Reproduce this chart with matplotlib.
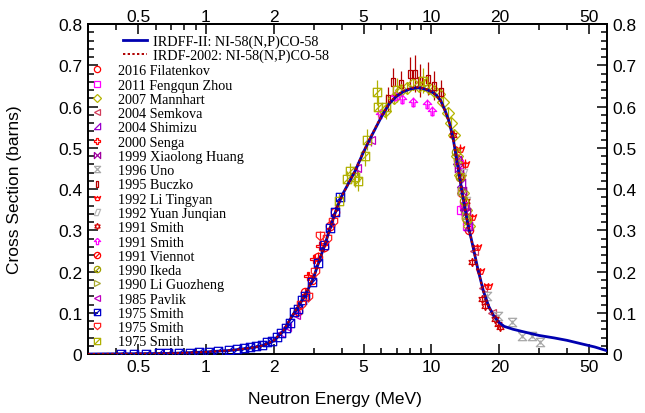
import numpy as np
import matplotlib
matplotlib.use("Agg")
import matplotlib.pyplot as plt
from matplotlib.path import Path
from matplotlib.lines import Line2D
from matplotlib.ticker import FixedLocator, FixedFormatter, LogLocator, MultipleLocator, NullFormatter

plt.rcParams['font.family'] = ['Liberation Sans', 'DejaVu Sans']

# evaluated curves (MeV, barns)
irdff_e = [0.3, 0.5, 0.7, 1.0, 1.3, 1.6, 1.8, 2.0, 2.2, 2.4, 2.6, 2.8, 3.0, 3.2, 3.4, 3.6,
           3.8, 4.0, 4.3, 4.6, 5.0, 5.5, 6.0, 6.5, 7.0, 7.5, 8.0, 8.5, 9.0, 9.5, 10.0,
           10.5, 11.0, 11.5, 12.0, 12.5, 13.0, 13.5, 14.0, 14.5, 15.0, 15.5, 16.0, 17.0,
           18.0, 19.0, 20.0, 21.0, 23.0, 26.0, 30.0, 35.0, 40.0, 46.0, 53.0, 60.0]
irdff_xs = [0.0, 0.0008, 0.0015, 0.005, 0.009, 0.015, 0.021, 0.032, 0.055, 0.09, 0.12,
            0.15, 0.185, 0.23, 0.272, 0.315, 0.353, 0.383, 0.415, 0.445, 0.49, 0.535,
            0.575, 0.607, 0.625, 0.636, 0.642, 0.645, 0.645, 0.641, 0.636, 0.628, 0.614,
            0.59, 0.562, 0.52, 0.465, 0.41, 0.36, 0.315, 0.28, 0.245, 0.21, 0.152, 0.114,
            0.09, 0.076, 0.067, 0.06, 0.053, 0.045, 0.039, 0.033, 0.025, 0.017, 0.008]
irdf_e = [0.3, 0.5, 0.7, 1.0, 1.3, 1.6, 1.8, 2.0, 2.2, 2.4, 2.6, 2.8, 3.0, 3.2, 3.4, 3.6,
          3.8, 4.0, 4.3, 4.6, 5.0, 5.5, 6.0, 6.5, 7.0, 7.5, 8.0, 8.5, 9.0, 9.5, 10.0,
          10.5, 11.0, 11.5, 12.0, 12.5, 13.0, 13.5, 14.0, 14.5, 15.0, 15.5, 16.0, 17.0,
          18.0, 19.0, 20.0]
irdf_xs = [0.0, 0.0008, 0.0015, 0.005, 0.009, 0.015, 0.021, 0.033, 0.056, 0.091, 0.121,
           0.151, 0.186, 0.231, 0.272, 0.314, 0.352, 0.382, 0.415, 0.446, 0.491, 0.537,
           0.577, 0.609, 0.627, 0.638, 0.644, 0.647, 0.646, 0.642, 0.636, 0.627, 0.612,
           0.588, 0.56, 0.518, 0.463, 0.409, 0.359, 0.314, 0.279, 0.244, 0.209, 0.151,
           0.113, 0.089, 0.075]

# measurements
filatenkov_e = [13.1, 13.4, 13.7, 14.0, 14.3, 14.6]
filatenkov_xs = [0.47, 0.43, 0.39, 0.36, 0.33, 0.30]
filatenkov_err = [0.015, 0.015, 0.014, 0.013, 0.012, 0.012]

zhou_e = [13.2, 13.5, 14.0, 14.4]
zhou_xs = [0.46, 0.35, 0.36, 0.31]
zhou_err = [0.015, 0.014, 0.013, 0.012]

mannhart_e = [6.2, 6.8, 7.3, 7.8, 8.3, 8.8, 9.3, 9.8, 10.3, 10.8, 11.3, 11.8, 12.2,
              12.6, 13.0, 13.4, 13.8, 14.2, 14.6]
mannhart_xs = [0.59, 0.62, 0.64, 0.645, 0.655, 0.65, 0.652, 0.645, 0.638, 0.63, 0.61,
               0.585, 0.56, 0.53, 0.48, 0.435, 0.39, 0.35, 0.31]
mannhart_err = [0.015] * 19

semkova_e = [14.1, 15.5, 17.0, 18.6]
semkova_xs = [0.36, 0.25, 0.16, 0.10]
semkova_err = [0.012, 0.01, 0.008, 0.006]

shimizu_e = [13.0, 13.5, 14.0, 14.5]
shimizu_xs = [0.47, 0.415, 0.36, 0.31]
shimizu_err = [0.014, 0.013, 0.012, 0.011]

senga_e = [2.85, 3.0, 3.2]
senga_xs = [0.19, 0.23, 0.262]
senga_err = [0.01, 0.012, 0.012]

huang_e = [13.2, 13.7, 14.2]
huang_xs = [0.45, 0.395, 0.345]
huang_err = [0.015, 0.014, 0.012]

uno_e = [17.64, 19.74, 22.78, 25.22, 27.93, 30.31]
uno_xs = [0.141, 0.092, 0.078, 0.044, 0.044, 0.029]
uno_err = [0.006, 0.005, 0.005, 0.004, 0.004, 0.004]

buczko_e = [6.42, 6.76, 7.3, 8.04, 8.46, 8.9, 9.66, 10.3, 11.03]
buczko_xs = [0.618, 0.659, 0.655, 0.679, 0.679, 0.662, 0.667, 0.65, 0.635]
buczko_err = [0.03, 0.035, 0.03, 0.04, 0.045, 0.04, 0.04, 0.035, 0.03]

tingyan_e = [13.39, 14.09, 15.09, 15.88, 16.43, 17.83]
tingyan_xs = [0.497, 0.461, 0.331, 0.259, 0.202, 0.166]
tingyan_err = [0.012, 0.012, 0.009, 0.008, 0.007, 0.006]

junqian_e = [13.8, 14.3]
junqian_xs = [0.44, 0.37]
junqian_err = [0.02, 0.02]

smith91a_e = [12.5, 13.5, 14.2, 15.14, 16.77, 17.29, 19.15, 19.74, 20.13]
smith91a_xs = [0.53, 0.43, 0.37, 0.223, 0.133, 0.116, 0.085, 0.073, 0.065]
smith91a_err = [0.012, 0.012, 0.01, 0.01, 0.008, 0.008, 0.006, 0.006, 0.006]

smith91b_e = [5.92, 6.89, 7.41, 8.28, 9.55, 10.07]
smith91b_xs = [0.582, 0.625, 0.618, 0.611, 0.606, 0.589]
smith91b_err = [0.012, 0.012, 0.012, 0.012, 0.012, 0.012]

viennot_e = [2.55, 2.75, 2.95, 3.15, 3.35, 3.55, 3.75]
viennot_xs = [0.105, 0.15, 0.18, 0.235, 0.26, 0.31, 0.345]
viennot_err = [0.008, 0.009, 0.01, 0.012, 0.012, 0.014, 0.015]

ikeda_e = [12.9, 13.4, 13.9, 14.4]
ikeda_xs = [0.49, 0.43, 0.37, 0.325]
ikeda_err = [0.012, 0.012, 0.011, 0.01]

guozheng_e = [13.1, 13.7, 14.3]
guozheng_xs = [0.465, 0.395, 0.335]
guozheng_err = [0.012, 0.011, 0.01]

pavlik_e = [2.15, 2.3, 2.5, 4.7, 5.4]
pavlik_xs = [0.05, 0.065, 0.095, 0.45, 0.52]
pavlik_err = [0.004, 0.005, 0.006, 0.015, 0.015]

smith75a_e = [0.42, 0.48, 0.54, 0.62, 0.68, 0.76, 0.85, 0.93, 1.03, 1.13, 1.27, 1.37,
              1.47, 1.57, 1.67, 1.77, 1.87, 1.97, 2.06, 2.16, 2.26, 2.36, 2.46, 2.56,
              2.66, 2.76, 2.95, 3.15, 3.35, 3.55, 3.75, 3.95]
smith75a_xs = [0.001, 0.001, 0.001, 0.002, 0.002, 0.003, 0.003, 0.004, 0.006, 0.007,
               0.009, 0.012, 0.014, 0.017, 0.02, 0.023, 0.028, 0.032, 0.042, 0.052, 0.063,
               0.075, 0.101, 0.11, 0.13, 0.14, 0.175, 0.22, 0.265, 0.305, 0.345, 0.38]
smith75a_err = [0.002] * 32

smith75b_e = [2.65, 2.85, 3.05, 3.21, 3.45, 3.65]
smith75b_xs = [0.12, 0.137, 0.2, 0.287, 0.28, 0.32]
smith75b_err = [0.008, 0.01, 0.01, 0.012, 0.012, 0.014]

smith75c_e = [3.9, 4.21, 4.35, 4.58, 4.72, 5.07, 5.16, 5.72, 5.8, 6.3, 7.0, 9.18]
smith75c_xs = [0.37, 0.424, 0.444, 0.43, 0.42, 0.48, 0.52, 0.634, 0.6, 0.6, 0.64, 0.663]
smith75c_err = [0.02, 0.02, 0.02, 0.025, 0.025, 0.025, 0.025, 0.03, 0.025, 0.03, 0.03, 0.03]

x_ticks = [0.5, 1, 2, 5, 10, 20, 50]
x_tick_labels = ['0.5', '1', '2', '5', '10', '20', '50']


def slashed(base):
    """closed outline with a diagonal stroke through it"""
    verts = list(base) + [base[0], (-0.8, -0.8), (0.8, 0.8)]
    codes = ([Path.MOVETO] + [Path.LINETO] * (len(base) - 1) + [Path.CLOSEPOLY]
             + [Path.MOVETO, Path.LINETO])
    return Path(verts, codes)


circ = Path.unit_circle()
slash_circle = Path.make_compound_path(circ, Path([(-0.7, -0.7), (0.7, 0.7)]))
slash_square = slashed([(-1, -1), (1, -1), (1, 1), (-1, 1)])
hourglass = [(-1, 1), (1, 1), (-1, -1), (1, -1), (-1, 1)]
bowtie = [(-1, 1), (-1, -1), (1, 1), (1, -1), (-1, 1)]
shield = [(-1, 1), (1, 1), (1, -0.1), (0, -1), (-1, -0.1), (-1, 1)]
tall_rect = [(-0.45, 1), (0.45, 1), (0.45, -1), (-0.45, -1), (-0.45, 1)]
crown = [(-1.2, 0.8), (-0.4, 0.2), (0, 0.8), (0.4, 0.2), (1.2, 0.8), (0.6, -0.8),
         (-0.6, -0.8), (-1.2, 0.8)]
slant = [(-1, -1), (0.2, -1), (1, 1), (-0.2, 1), (-1, -1)]
arrow = [(0, 1), (1, 0), (0.35, 0), (0.35, -1), (-0.35, -1), (-0.35, 0), (-1, 0), (0, 1)]
wedge = [(-1, -1), (1, -1), (1, 1), (-1, -1)]

series = [
    ('2016 Filatenkov', filatenkov_e, filatenkov_xs, filatenkov_err, 'o', '#ff0000'),
    ('2011 Fengqun Zhou', zhou_e, zhou_xs, zhou_err, 's', '#ff00ff'),
    ('2007 Mannhart', mannhart_e, mannhart_xs, mannhart_err, 'D', '#b4b400'),
    ('2004 Semkova', semkova_e, semkova_xs, semkova_err, '<', '#d23c5a'),
    ('2004 Shimizu', shimizu_e, shimizu_xs, shimizu_err, wedge, '#9a00cc'),
    ('2000 Senga', senga_e, senga_xs, senga_err, 'P', '#ff0000'),
    ('1999 Xiaolong Huang', huang_e, huang_xs, huang_err, bowtie, '#a000a0'),
    ('1996 Uno', uno_e, uno_xs, uno_err, hourglass, '#a8a8a8'),
    ('1995 Buczko', buczko_e, buczko_xs, buczko_err, tall_rect, '#b40000'),
    ('1992 Li Tingyan', tingyan_e, tingyan_xs, tingyan_err, crown, '#ff0000'),
    ('1992 Yuan Junqian', junqian_e, junqian_xs, junqian_err, slant, '#b8b8b8'),
    ('1991 Smith', smith91a_e, smith91a_xs, smith91a_err, (6, 1, 0), '#d00000'),
    ('1991 Smith', smith91b_e, smith91b_xs, smith91b_err, arrow, '#ff00ff'),
    ('1991 Viennot', viennot_e, viennot_xs, viennot_err, slash_circle, '#ff0000'),
    ('1990 Ikeda', ikeda_e, ikeda_xs, ikeda_err, slash_circle, '#a0a000'),
    ('1990 Li Guozheng', guozheng_e, guozheng_xs, guozheng_err, '>', '#a8a830'),
    ('1985 Pavlik', pavlik_e, pavlik_xs, pavlik_err, '<', '#c000c0'),
    ('1975 Smith', smith75a_e, smith75a_xs, smith75a_err, slash_square, '#0000cc'),
    ('1975 Smith', smith75b_e, smith75b_xs, smith75b_err, shield, '#ff2020'),
    ('1975 Smith', smith75c_e, smith75c_xs, smith75c_err, slash_square, '#b0b000'),
]

fig = plt.figure(figsize=(6.45, 4.14), dpi=100)
ax = fig.add_axes([0.1364, 0.1425, 0.8046, 0.7971])

handles = []
for label, e, xs, err, mk, col in series:
    ax.errorbar(e, xs, yerr=err, fmt='none', ecolor=col, elinewidth=0.9, zorder=2)
    ax.plot(e, xs, ls='none', marker=mk, ms=6, mfc='none', mec=col, mew=0.9, zorder=3)
    handles.append(Line2D([], [], ls='none', marker=mk, ms=4.5, mfc='none', mec=col, mew=0.9))

l1, = ax.plot(irdff_e, irdff_xs, color='#0000b0', lw=2.0, zorder=5)
l2, = ax.plot(irdf_e, irdf_xs, color='#b00000', lw=1.4, ls=(0, (1.2, 1.2)), zorder=6)

ax.set_xscale('log')
ax.set_xlim(0.3, 60)
ax.set_ylim(0, 0.8)


def style_x(axis):
    axis.set_major_locator(FixedLocator(x_ticks))
    axis.set_major_formatter(FixedFormatter(x_tick_labels))
    axis.set_minor_locator(LogLocator(base=10, subs=np.arange(1, 10)))
    axis.set_minor_formatter(NullFormatter())


style_x(ax.xaxis)
ax.yaxis.set_major_locator(MultipleLocator(0.1))
ax.yaxis.set_minor_locator(MultipleLocator(0.02))
ax.yaxis.set_major_formatter(plt.FuncFormatter(lambda v, p: '%g' % round(v, 2)))

ax.tick_params(which='both', direction='in', top=False, right=True,
               labelright=True, labelsize=12.5, width=1.1)
ax.tick_params(which='major', length=7)
ax.tick_params(which='minor', length=4)
ax.tick_params(axis='x', pad=3.5)
ax.tick_params(axis='y', pad=4)
for s in ax.spines.values():
    s.set_linewidth(1.4)

# top energy scale sits tight against the frame
top = ax.secondary_xaxis('top')
style_x(top.xaxis)
top.tick_params(which='both', direction='in', labelsize=12.5, width=1.1, pad=0)
top.tick_params(which='major', length=7)
top.tick_params(which='minor', length=4)
top.spines['top'].set_linewidth(1.4)

ax.set_xlabel('Neutron Energy (MeV)', fontsize=12.5)
ax.set_ylabel('Cross Section (barns)', fontsize=12.5)
ax.xaxis.set_label_coords(0.476, -0.112)
ax.yaxis.set_label_coords(-0.128, 0.5)

serif = {'family': 'Liberation Serif', 'size': 10.2}
leg1 = ax.legend([l1, l2], ['IRDFF-II: NI-58(N,P)CO-58', 'IRDF-2002: NI-58(N,P)CO-58'],
                 loc='upper left', bbox_to_anchor=(0.067, 0.968), frameon=False,
                 prop=serif, handlelength=1.7, handletextpad=0.42, labelspacing=0.06,
                 borderaxespad=0, borderpad=0)
ax.add_artist(leg1)
ax.legend(handles, [s[0] for s in series], loc='upper left', bbox_to_anchor=(0.004, 0.878),
          frameon=False, prop=serif, handlelength=1.0, handletextpad=0.98,
          labelspacing=0.09, borderaxespad=0, borderpad=0)

fig.savefig('out.png', dpi=100)
